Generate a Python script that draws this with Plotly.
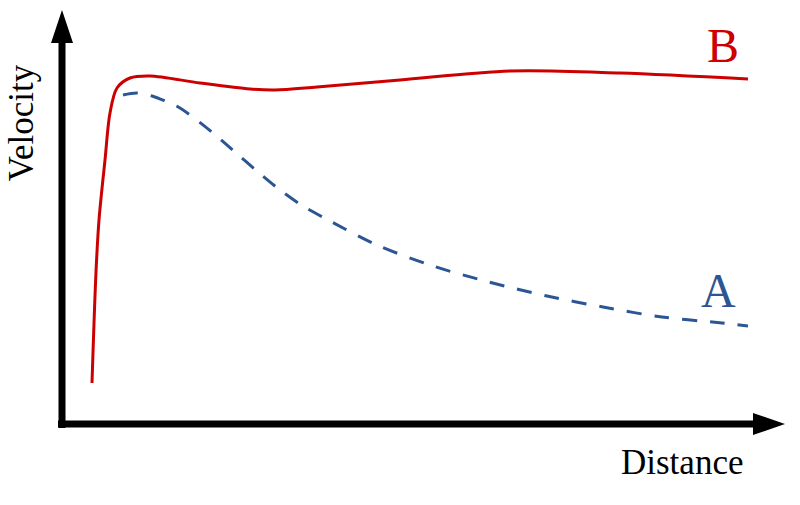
import plotly.graph_objects as go

# Curve B (solid red): distance, velocity (arbitrary units)
b_distance = [30, 34, 37, 43, 48, 55, 68, 88, 138, 188, 213, 255, 338, 448, 558, 686]
b_velocity = [41, 152, 204, 264, 311, 336, 346, 348, 341, 335, 334, 337, 344, 353, 351, 345]

# Curve A (dashed blue)
a_distance = [61, 75, 90, 103, 118, 151, 173, 196, 218, 241, 268, 315, 371, 427, 485, 541, 600, 660, 686]
a_velocity = [329, 331, 328, 323, 316, 291, 272, 252, 234, 218, 203, 179, 158, 142, 128, 117, 107, 101, 98]

RED = "#cc0000"
BLUE = "#2b5593"
FONT = "Liberation Serif"

fig = go.Figure()
fig.add_trace(go.Scatter(x=b_distance, y=b_velocity, mode="lines",
                         line=dict(color=RED, width=3, shape="spline", smoothing=0.9),
                         hoverinfo="skip"))
fig.add_trace(go.Scatter(x=a_distance, y=a_velocity, mode="lines",
                         line=dict(color=BLUE, width=3, dash="15px,13px", shape="spline", smoothing=0.9),
                         hoverinfo="skip"))

# Axis arrows
shapes = [
    dict(type="line", x0=0, y0=-4, x1=0, y1=382, line=dict(color="black", width=7)),
    dict(type="path", path="M -11 381 L 11 381 L 0 414 Z", fillcolor="black", line=dict(width=0)),
    dict(type="line", x0=-4, y0=0, x1=692, y1=0, line=dict(color="black", width=7)),
    dict(type="path", path="M 691 11 L 691 -11 L 723 0 Z", fillcolor="black", line=dict(width=0)),
]

annotations = [
    dict(x=661, y=379, text="B", showarrow=False, font=dict(family=FONT, size=48, color=RED)),
    dict(x=656, y=134, text="A", showarrow=False, font=dict(family=FONT, size=48, color=BLUE)),
    dict(x=620, y=-38, text="Distance", showarrow=False, font=dict(family=FONT, size=35, color="black")),
    dict(x=-62, y=301, text="Velocity", textangle=-90, showarrow=False, xanchor="left",
         borderpad=0, font=dict(family=FONT, size=35, color="black")),
]

fig.update_layout(
    width=800, height=505,
    margin=dict(l=0, r=0, t=0, b=0),
    paper_bgcolor="white", plot_bgcolor="white",
    showlegend=False,
    xaxis=dict(range=[-62, 738], visible=False, fixedrange=True),
    yaxis=dict(range=[-81, 424], visible=False, fixedrange=True),
    shapes=shapes,
    annotations=annotations,
)

fig.write_html("out.html", config={"displayModeBar": False},
               post_script="document.body.style.margin='0';document.body.style.overflow='hidden';")
